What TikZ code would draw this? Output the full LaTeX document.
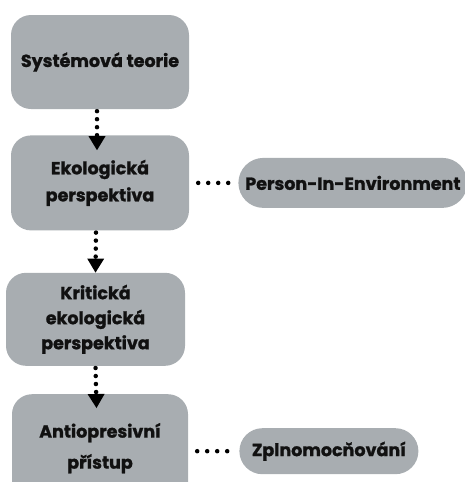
\documentclass[tikz,border=0pt]{standalone}
\usepackage{fontspec}
\setmainfont{Poppins}[BoldFeatures={FakeBold=1.2}]
\usetikzlibrary{arrows.meta, positioning}
\definecolor{boxgray}{HTML}{A8ADB1}
\definecolor{inkblack}{HTML}{111111}

\begin{document}
\begin{tikzpicture}[x=1pt, y=1pt, node distance=26pt,
  block/.style={fill=boxgray, rounded corners=20pt, align=center, text=inkblack, font=\fontsize{17.5}{27}\selectfont\bfseries, minimum width=178pt, minimum height=94pt, inner sep=0pt},
  pill/.style={fill=boxgray, rounded corners=23pt, text=inkblack, font=\fontsize{17.5}{27}\selectfont\bfseries, minimum height=46pt, inner sep=0pt},
  flow/.style={line width=4.5pt, line cap=round, dash pattern=on 0pt off 8pt, shorten <=2pt, -{Triangle[length=14pt, width=17pt, line width=0pt]}},
  link/.style={line width=4.5pt, line cap=round, dash pattern=on 0pt off 10pt, shorten <=9pt, shorten >=9pt}]
\path[use as bounding box] (0,0) rectangle (465,-482);
\clip (0,0) rectangle (465,-482);

\node[block] (ST) at (100,-62) {Systémová teorie};
\node[block, below=of ST, minimum height=95pt] (EP) {Ekologická\\perspektiva};
\node[block, below=42pt of EP, xshift=-4.5pt, minimum width=179pt, minimum height=93pt, font=\fontsize{17.5}{25}\selectfont\bfseries] (KEP) {Kritická\\ekologická\\perspektiva};
\node[block, below=28pt of KEP, xshift=4.5pt, minimum width=176pt, minimum height=108pt, font=\fontsize{17.5}{31}\selectfont\bfseries] (AP) {Antiopresivní\\přístup};
\node[pill, right=49pt of EP, minimum width=229pt, rounded corners=25pt, minimum height=50pt] (PIE) {Person-In-Environment};
\node[pill, right=51pt of AP, yshift=-3pt, minimum width=179pt] (ZPL) {Zplnomocňování};

\draw[flow] ([xshift=-3pt]ST.south) -- ([xshift=-3pt, yshift=-15pt]EP.north);
\draw[flow] ([xshift=-4pt]EP.south) -- (KEP.north);
\draw[flow] (KEP.south) -- ([xshift=-3.5pt, yshift=-14pt]AP.north);

\draw[link] (EP.east) -- (PIE.west);
\draw[link] (AP.east |- ZPL.west) -- (ZPL.west);
\end{tikzpicture}
\end{document}
